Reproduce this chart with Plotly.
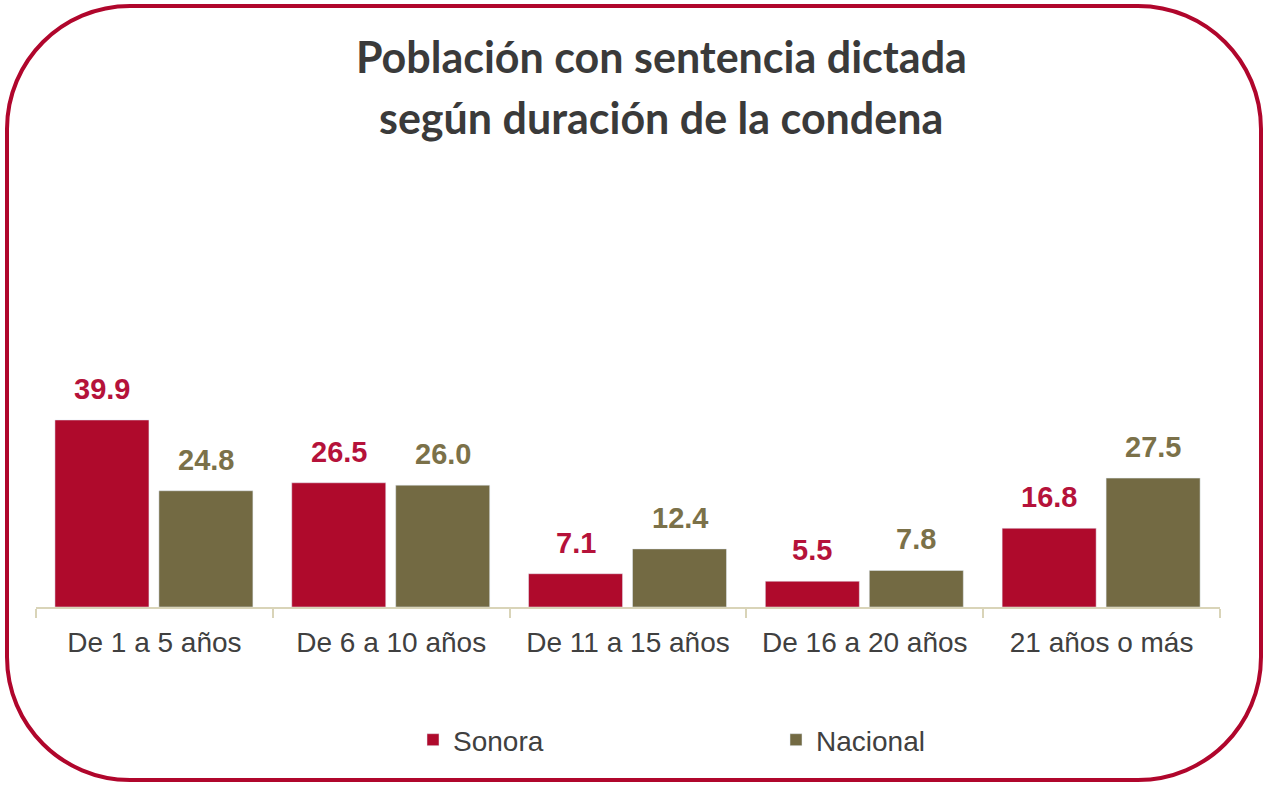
import plotly.graph_objects as go

# Datos
categorias = ["De 1 a 5 años", "De 6 a 10 años", "De 11 a 15 años", "De 16 a 20 años", "21 años o más"]
sonora = [39.9, 26.5, 7.1, 5.5, 16.8]
nacional = [24.8, 26.0, 12.4, 7.8, 27.5]

titulo_1 = "Población con sentencia dictada"
titulo_2 = "según duración de la condena"

rojo = "#AF0A2C"
oliva = "#736A43"
rojo_txt = "#B5123A"
oliva_txt = "#7B7149"

W, H = 1268, 785
ml, mr, mt, mb = 36, 48, 180, 178
pw = W - ml - mr
ph = H - mt - mb


def px(x):
    return (x - ml) / pw


def py(y):
    return (H - mb - y) / ph


ancho = 0.397
off_son = -0.42
off_nac = 0.019

fig = go.Figure()
fig.add_trace(go.Bar(x=categorias, y=sonora, name="Sonora", marker_color=rojo,
                     width=ancho, offset=off_son))
fig.add_trace(go.Bar(x=categorias, y=nacional, name="Nacional", marker_color=oliva,
                     width=ancho, offset=off_nac))

# etiquetas de datos
cat_px = pw / len(categorias)
for serie, off, color in [(sonora, off_son, rojo_txt), (nacional, off_nac, oliva_txt)]:
    for c, v in zip(categorias, serie):
        fig.add_annotation(x=c, y=v, text="<b>%.1f</b>" % v, showarrow=False,
                           xshift=(off + ancho / 2) * cat_px, yanchor="bottom", yshift=13,
                           font=dict(family="Liberation Sans", size=29, color=color))

# titulo en dos lineas
for txt, yy in [(titulo_1, 57), (titulo_2, 117)]:
    fig.add_annotation(xref="paper", yref="paper", x=px(661), y=py(yy), text="<b>%s</b>" % txt,
                       showarrow=False, xanchor="center", yanchor="middle",
                       font=dict(family="Lato", size=43, color="#3A3A3A"))

# marco redondeado
x0, x1, y0, y1, r = 7, 1261, 6, 780, 123
k = 0.5523 * r
pts = [
    ("M", [(x0 + r, y0)]),
    ("L", [(x1 - r, y0)]),
    ("C", [(x1 - r + k, y0), (x1, y0 + r - k), (x1, y0 + r)]),
    ("L", [(x1, y1 - r)]),
    ("C", [(x1, y1 - r + k), (x1 - r + k, y1), (x1 - r, y1)]),
    ("L", [(x0 + r, y1)]),
    ("C", [(x0 + r - k, y1), (x0, y1 - r + k), (x0, y1 - r)]),
    ("L", [(x0, y0 + r)]),
    ("C", [(x0, y0 + r - k), (x0 + r - k, y0), (x0 + r, y0)]),
]
path = ""
for cmd, ps in pts:
    path += cmd + " " + " ".join("%.5f,%.5f" % (px(a), py(b)) for a, b in ps) + " "
path += "Z"
fig.add_shape(type="path", xref="paper", yref="paper", path=path,
              line=dict(color="#B0062C", width=4), fillcolor="rgba(0,0,0,0)", layer="above")

fig.update_layout(
    width=W, height=H,
    margin=dict(l=ml, r=mr, t=mt, b=mb),
    paper_bgcolor="white", plot_bgcolor="white",
    barmode="overlay",
    showlegend=True,
    legend=dict(orientation="h", x=px(413), xanchor="left", y=py(740), yanchor="middle",
                entrywidth=318, entrywidthmode="pixels",
                font=dict(family="Liberation Sans", size=28, color="#404040")),
    font=dict(family="Liberation Sans"),
)
fig.update_xaxes(showline=True, linecolor="#D9D4B8", linewidth=2,
                 ticks="outside", tickson="boundaries", ticklen=9, tickcolor="#D9D4B8", tickwidth=2,
                 ticklabelstandoff=9,
                 tickfont=dict(family="Liberation Sans", size=28, color="#404040"),
                 showgrid=False, fixedrange=True)
fig.update_yaxes(visible=False, range=[0, ph / 4.687], showgrid=False, fixedrange=True)

# sin margen del body para que la figura ocupe toda la ventana
fig.write_html("out.html", config={"displayModeBar": False},
               post_script="document.body.style.margin='0';")
